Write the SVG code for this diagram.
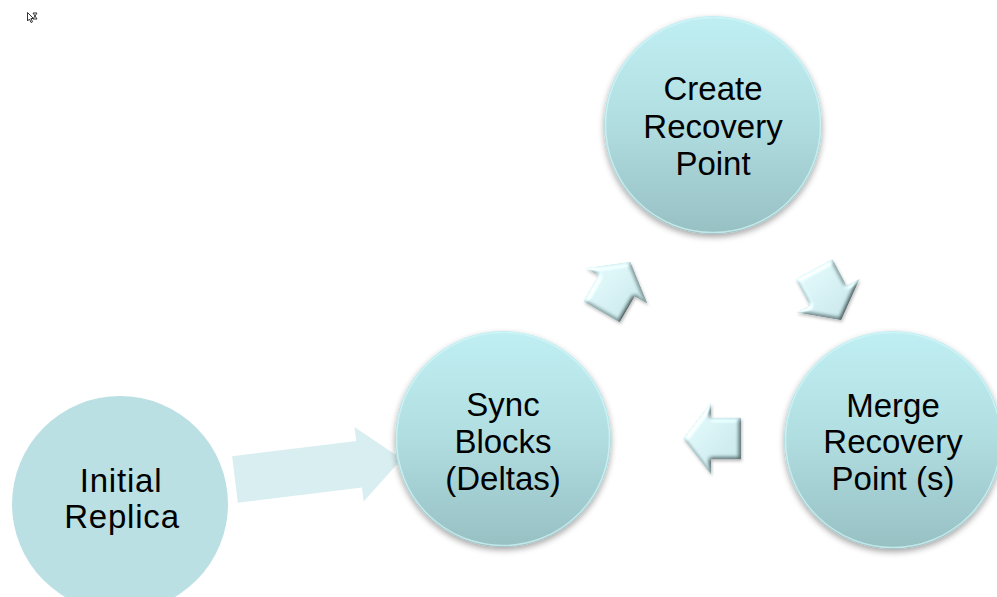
<svg xmlns="http://www.w3.org/2000/svg" width="997" height="597" viewBox="0 0 997 597">
<defs>
<style>
.lbl{font-family:"Liberation Sans",Arial,sans-serif;font-size:33px;fill:#000;text-anchor:middle}
.ball{fill:url(#ballGrad);filter:url(#shadow)}
.rim{fill:none;stroke:#d6f6f8;stroke-width:1.5;opacity:.7}
.barrow{fill:url(#arrGrad);filter:url(#bevel)}
</style>
<linearGradient id="ballGrad" x1="0" y1="0" x2="0" y2="1">
<stop offset="0" stop-color="#c0eff3"/>
<stop offset="0.5" stop-color="#b0dde0"/>
<stop offset="1" stop-color="#97c0c3"/>
</linearGradient>
<linearGradient id="arrGrad" x1="0" y1="0" x2="1" y2="1">
<stop offset="0" stop-color="#d9f0f2"/>
<stop offset="1" stop-color="#b2d5d8"/>
</linearGradient>
<filter id="shadow" x="-20%" y="-20%" width="140%" height="140%">
<feDropShadow dx="0" dy="3" stdDeviation="3" flood-color="#000" flood-opacity="0.35"/>
</filter>
<filter id="bevel" x="-20%" y="-20%" width="140%" height="140%">
<feGaussianBlur in="SourceAlpha" stdDeviation="2" result="blur"/>
<feDiffuseLighting in="blur" surfaceScale="3" diffuseConstant="1.2" lighting-color="#fff" result="diff">
<feDistantLight azimuth="225" elevation="55"/>
</feDiffuseLighting>
<feComposite in="diff" in2="SourceGraphic" operator="arithmetic" k1="1" k2="0" k3="0" k4="0" result="lit"/>
<feSpecularLighting in="blur" surfaceScale="3" specularConstant="0.7" specularExponent="12" lighting-color="#fff" result="spec">
<feDistantLight azimuth="225" elevation="40"/>
</feSpecularLighting>
<feComposite in="spec" in2="SourceAlpha" operator="in" result="specIn"/>
<feComposite in="lit" in2="specIn" operator="arithmetic" k1="0" k2="1" k3="0.6" k4="0" result="comb"/>
<feComposite in="comb" in2="SourceAlpha" operator="in" result="final"/>
<feDropShadow in="final" dx="1" dy="2" stdDeviation="1.5" flood-color="#000" flood-opacity="0.25"/>
</filter>
</defs>

<g id="connectors">
<polygon id="arrow-initial-sync" fill="#d9eef0" transform="translate(235,479.5) rotate(-7)" points="0,-23.5 125,-23.5 125,-37.5 168,0 125,37.5 125,23.5 0,23.5"/>
<polygon id="arrow-sync-create" class="barrow" points="583.3,301.5 598.3,275.5 585.3,268.0 630.5,261.8 647.7,304.0 634.7,296.5 619.7,322.5"/>
<polygon id="arrow-create-merge" class="barrow" points="832.5,259.1 846.6,285.6 859.9,278.6 841.2,320.2 796.3,312.4 809.6,305.4 795.5,278.9"/>
<polygon id="arrow-merge-sync" class="barrow" points="741,459.5 711,459.5 711,474.5 683,438.5 711,402.5 711,417.5 741,417.5"/>
</g>

<g id="node-initial">
<circle cx="120" cy="504" r="108" fill="#bbe0e3"/>
<text class="lbl" x="121" y="492" font-size="34" letter-spacing="0.8">Initial</text>
<text class="lbl" x="122" y="528" font-size="34" letter-spacing="0.8">Replica</text>
</g>

<g id="node-sync">
<circle class="ball" cx="503" cy="439" r="108"/>
<circle class="rim" cx="503" cy="439" r="106.5"/>
<text class="lbl" x="503" y="416">Sync</text>
<text class="lbl" x="503" y="453">Blocks</text>
<text class="lbl" x="503" y="490">(Deltas)</text>
</g>

<g id="node-create">
<circle class="ball" cx="713" cy="125" r="109"/>
<circle class="rim" cx="713" cy="125" r="107.5"/>
<text class="lbl" x="713" y="100">Create</text>
<text class="lbl" x="713" y="138">Recovery</text>
<text class="lbl" x="713" y="175">Point</text>
</g>

<g id="node-merge">
<circle class="ball" cx="893" cy="440" r="109"/>
<circle class="rim" cx="893" cy="440" r="107.5"/>
<text class="lbl" x="893" y="417">Merge</text>
<text class="lbl" x="893" y="453">Recovery</text>
<text class="lbl" x="893" y="490">Point (s)</text>
</g>

<g id="cursor" fill="none" stroke="#333" stroke-width="1">
<path d="M27.5,12.5 L27.5,21 L29.5,19 L31,22.5 L32.5,21.8 L31,18.5 L33.5,18.5 Z"/>
<path d="M33,13 L37,13 L35,16 L37,19 L33,19 L35,16 Z"/>
</g>
</svg>
